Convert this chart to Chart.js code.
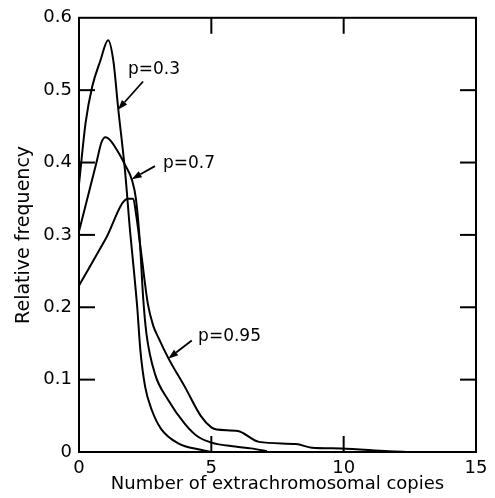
<!DOCTYPE html>
<html>
<head>
<meta charset="utf-8">
<script src="https://cdn.jsdelivr.net/npm/chart.js@4/dist/chart.umd.min.js"></script>
<style>
  html, body { margin: 0; padding: 0; background: #fff; }
  #wrap { width: 495px; height: 498px; position: relative; }
</style>
</head>
<body>
<div id="wrap"><canvas id="c"></canvas></div>
<script>
// ---- data ----
const seriesNames = ['p=0.3', 'p=0.7', 'p=0.95'];

const p03X = [0, 0.25, 0.5, 0.8, 1.1, 1.3, 1.48, 1.74, 1.93, 2.05, 2.2, 2.32, 2.5, 2.75, 3.1, 3.75, 4.6, 5.0];
const p03Y = [0.37, 0.455, 0.505, 0.54, 0.569, 0.54, 0.475, 0.388, 0.305, 0.26, 0.2, 0.14, 0.09, 0.058, 0.032, 0.012, 0.003, 0];

const p07X = [0, 0.66, 0.85, 1.0, 1.2, 1.55, 1.75, 2.0, 2.15, 2.3, 2.43, 2.55, 2.87, 3.37, 4.0, 4.5, 5.0, 5.9, 6.5, 7.1];
const p07Y = [0.305, 0.4, 0.428, 0.435, 0.43, 0.41, 0.396, 0.376, 0.35, 0.29, 0.21, 0.163, 0.108, 0.072, 0.039, 0.021, 0.013, 0.0075, 0.005, 0.001];

const p095X = [0, 1.0, 1.85, 2.05, 2.15, 2.35, 2.6, 2.8, 3.0, 3.4, 4.0, 4.6, 5.0, 5.2, 6.0, 6.8, 8.2, 8.8, 9.9, 11.7, 12.5];
const p095Y = [0.23, 0.294, 0.35, 0.35, 0.33, 0.275, 0.205, 0.175, 0.158, 0.128, 0.09, 0.05, 0.034, 0.031, 0.029, 0.014, 0.011, 0.006, 0.005, 0.001, 0];

const xTickValues = [0, 5, 10, 15];
const yTickValues = [0, 0.1, 0.2, 0.3, 0.4, 0.5, 0.6];
const xInnerTicks = [5, 10];
const yInnerTicks = [0.1, 0.2, 0.3, 0.4, 0.5];

// annotation anchors in data units: label position, arrow tail, arrow head
const annLabelX = [1.85, 3.17, 4.5];
const annLabelY = [0.522, 0.392, 0.154];
const annTailX = [2.42, 2.87, 4.26];
const annTailY = [0.512, 0.395, 0.154];
const annHeadX = [1.47, 1.99, 3.37];
const annHeadY = [0.473, 0.377, 0.129];

const toPts = (xs, ys) => xs.map((x, i) => ({ x: x, y: ys[i] }));

const FONT = '"DejaVu Sans", "Liberation Sans", sans-serif';

const framePlugin = {
  id: 'frameTicks',
  afterDraw(chart) {
    const { ctx, chartArea: a, scales: { x, y } } = chart;
    ctx.save();
    ctx.strokeStyle = '#000';
    ctx.fillStyle = '#000';
    ctx.lineWidth = 2;
    ctx.lineCap = 'butt';
    ctx.strokeRect(a.left, a.top, a.right - a.left, a.bottom - a.top);
    const seg = (x1, y1, x2, y2) => { ctx.beginPath(); ctx.moveTo(x1, y1); ctx.lineTo(x2, y2); ctx.stroke(); };
    const L = 16;
    yInnerTicks.forEach(v => {
      const py = y.getPixelForValue(v);
      seg(a.left, py, a.left + L, py);
      seg(a.right, py, a.right - L, py);
    });
    xInnerTicks.forEach(v => {
      const px = x.getPixelForValue(v);
      seg(px, a.bottom, px, a.bottom - L);
      seg(px, a.top, px, a.top + L);
    });
    // annotations
    ctx.font = '17px ' + FONT;
    ctx.textBaseline = 'alphabetic';
    ctx.textAlign = 'left';
    seriesNames.forEach((name, i) => {
      ctx.fillText(name, x.getPixelForValue(annLabelX[i]), y.getPixelForValue(annLabelY[i]));
      const tx = x.getPixelForValue(annTailX[i]), ty = y.getPixelForValue(annTailY[i]);
      const hx = x.getPixelForValue(annHeadX[i]), hy = y.getPixelForValue(annHeadY[i]);
      const ang = Math.atan2(hy - ty, hx - tx);
      const hl = 10, hw = 3.5;
      const bx = hx - hl * Math.cos(ang), by = hy - hl * Math.sin(ang);
      ctx.lineWidth = 1.8;
      seg(tx, ty, bx, by);
      ctx.beginPath();
      ctx.moveTo(hx, hy);
      ctx.lineTo(bx + hw * Math.sin(ang), by - hw * Math.cos(ang));
      ctx.lineTo(bx - hw * Math.sin(ang), by + hw * Math.cos(ang));
      ctx.closePath();
      ctx.fill();
    });
    ctx.restore();
  }
};

const lineStyle = {
  borderColor: '#000',
  borderWidth: 2,
  pointRadius: 0,
  fill: false,
  cubicInterpolationMode: 'monotone'
};

new Chart(document.getElementById('c'), {
  type: 'line',
  data: {
    datasets: [
      Object.assign({ label: seriesNames[0], data: toPts(p03X, p03Y) }, lineStyle),
      Object.assign({ label: seriesNames[1], data: toPts(p07X, p07Y) }, lineStyle),
      Object.assign({ label: seriesNames[2], data: toPts(p095X, p095Y) }, lineStyle)
    ]
  },
  options: {
    responsive: true,
    maintainAspectRatio: false,
    animation: false,
    layout: { padding: { left: 0, right: 19, top: 16, bottom: 0 } },
    plugins: { legend: { display: false }, tooltip: { enabled: false } },
    scales: {
      x: {
        type: 'linear',
        min: 0, max: 15,
        afterBuildTicks: s => { s.ticks = xTickValues.map(v => ({ value: v })); },
        afterFit: s => { s.height = 46; },
        grid: { display: false, drawTicks: false },
        border: { display: false },
        ticks: { color: '#000', font: { family: FONT, size: 18 }, padding: 6, maxRotation: 0 },
        title: { display: true, text: 'Number of extrachromosomal copies', color: '#000', font: { family: FONT, size: 18 }, padding: { bottom: 3 } }
      },
      y: {
        type: 'linear',
        min: 0, max: 0.6,
        afterBuildTicks: s => { s.ticks = yTickValues.map(v => ({ value: v })); },
        afterFit: s => { s.width = 79; },
        grid: { display: false, drawTicks: false },
        border: { display: false },
        ticks: { color: '#000', font: { family: FONT, size: 18 }, padding: 7, callback: v => (v === 0 ? '0' : v.toFixed(1)) },
        title: { display: true, text: 'Relative frequency', color: '#000', font: { family: FONT, size: 19 }, padding: { top: 13 } }
      }
    }
  },
  plugins: [framePlugin]
});
</script>
</body>
</html>
